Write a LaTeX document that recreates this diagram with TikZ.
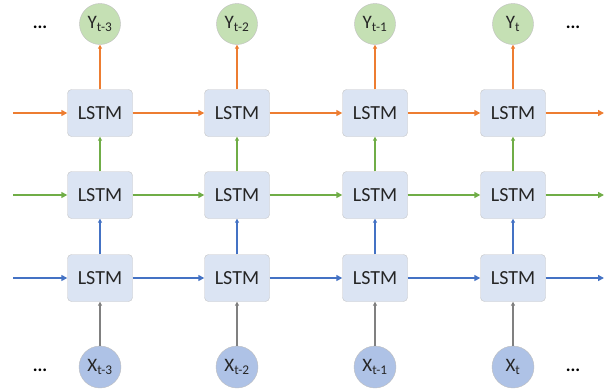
\documentclass[tikz,border=0pt]{standalone}
\usepackage{fontspec}
\setmainfont{Carlito}
\usetikzlibrary{arrows.meta}
\definecolor{cor}{RGB}{237,125,49}
\definecolor{cgr}{RGB}{112,173,71}
\definecolor{cbl}{RGB}{68,114,196}
\definecolor{cgy}{RGB}{128,128,128}
\definecolor{boxfill}{RGB}{219,228,243}
\definecolor{yfill}{RGB}{197,224,180}
\definecolor{xfill}{RGB}{174,194,230}
\tikzset{
  lstm/.style={draw=gray!45, fill=boxfill, rounded corners=4pt, minimum width=65pt, minimum height=47pt, inner sep=0pt, text=black!85, font=\fontsize{20}{20}\selectfont},
  ynode/.style={circle, draw=gray!50, fill=yfill, minimum size=41pt, inner sep=0pt, text=black!85, font=\fontsize{19}{19}\selectfont},
  xnode/.style={circle, draw=gray!50, fill=xfill, minimum size=42pt, inner sep=0pt, text=black!85, font=\fontsize{19}{19}\selectfont},
  dots/.style={font=\fontsize{18}{18}\selectfont\bfseries},
  harr/.style={line width=1.8pt, -{Triangle[length=6pt,width=6pt]}},
  varr/.style={line width=1.3pt, -{Triangle[length=4pt,width=4pt]}},
}
\begin{document}
\begin{tikzpicture}[x=1pt,y=-1pt]
\useasboundingbox (0,0) rectangle (605,391);
\foreach \c/\x in {1/100,2/237,3/375,4/513}{
  \node[lstm] (o\c) at (\x,113) {LSTM};
  \node[lstm] (g\c) at (\x,195) {LSTM};
  \node[lstm] (b\c) at (\x,278) {LSTM};
}
\node[ynode] (y1) at (100,24) {Y\textsubscript{t-3}};
\node[ynode] (y2) at (237,24) {Y\textsubscript{t-2}};
\node[ynode] (y3) at (375,24) {Y\textsubscript{t-1}};
\node[ynode] (y4) at (513,24) {Y\textsubscript{t}};
\node[xnode] (x1) at (100,367) {X\textsubscript{t-3}};
\node[xnode] (x2) at (237,367) {X\textsubscript{t-2}};
\node[xnode] (x3) at (375,367) {X\textsubscript{t-1}};
\node[xnode] (x4) at (513,367) {X\textsubscript{t}};
\node[dots] (dtl) at (40,27) {...};
\node[dots] (dtr) at (573,27) {...};
\node[dots] (dbl) at (40,370) {...};
\node[dots] (dbr) at (573,370) {...};
\coordinate (ol) at (13,113); \coordinate (or) at (604,113);
\coordinate (gl) at (13,195); \coordinate (gr) at (604,195);
\coordinate (bl) at (13,278); \coordinate (br) at (604,278);
\draw[harr,cor] (ol) -- (o1.west);
\draw[harr,cgr] (gl) -- (g1.west);
\draw[harr,cbl] (bl) -- (b1.west);
\foreach \a/\b in {1/2,2/3,3/4}{
  \draw[harr,cor] (o\a.east) -- (o\b.west);
  \draw[harr,cgr] (g\a.east) -- (g\b.west);
  \draw[harr,cbl] (b\a.east) -- (b\b.west);
}
\draw[harr,cor] (o4.east) -- (or);
\draw[harr,cgr] (g4.east) -- (gr);
\draw[harr,cbl] (b4.east) -- (br);
\foreach \c in {1,2,3,4}{
  \draw[varr,cor] (o\c.north) -- (y\c.south);
  \draw[varr,cgr] (g\c.north) -- (o\c.south);
  \draw[varr,cbl] (b\c.north) -- (g\c.south);
  \draw[varr,cgy] (x\c.north) -- (b\c.south);
}
\end{tikzpicture}
\end{document}
